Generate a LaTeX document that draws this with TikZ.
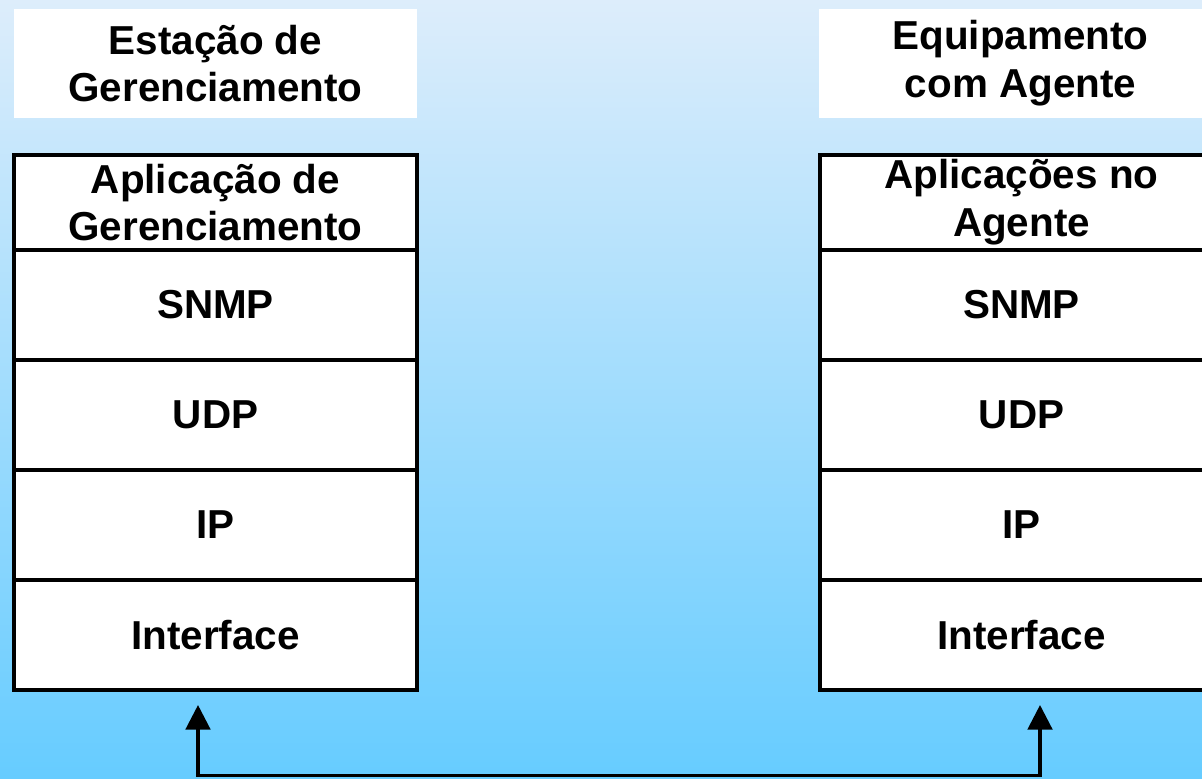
\documentclass[tikz,border=0pt]{standalone}
\usepackage{fontspec}
\setmainfont{Liberation Sans}
\usetikzlibrary{positioning}
\usetikzlibrary{arrows.meta}
\definecolor{skytop}{RGB}{221,237,251}
\definecolor{skybot}{RGB}{102,204,255}
\tikzset{layer/.style={draw, fill=white, line width=0.9pt, minimum width=4.03cm, minimum height=1.1cm, outer sep=0pt, inner sep=0pt, align=center, font=\bfseries\fontsize{11.5}{13.6}\selectfont}}
\tikzset{heading/.style={fill=white, minimum width=4.03cm, minimum height=1.09cm, outer sep=0pt, inner sep=0pt, align=center, font=\bfseries\fontsize{11.5}{13.6}\selectfont}}
\tikzset{link/.style={line width=0.9pt, {Triangle[width=7pt,length=7pt]}-{Triangle[width=7pt,length=7pt]}}}

\begin{document}
\begin{tikzpicture}

\useasboundingbox (0,0) rectangle (12.02,7.78);
\fill[top color=skytop, bottom color=skybot] (0,0) rectangle (12.02,7.78);

% station side
\node (hdL) [heading, anchor=north west] at (0.14, 7.69) {Estação de\\Gerenciamento};
\node (apL) [layer, minimum height=0.95cm, anchor=north west] at (0.14, 6.23) {Aplicação de\\Gerenciamento};
\node (snmpL) [layer, below=0 of apL] {SNMP};
\node (udpL) [layer, below=0 of snmpL] {UDP};
\node (ipL) [layer, below=0 of udpL] {IP};
\node (ifL) [layer, below=0 of ipL] {Interface};

% agent side
\node (hdR) [heading, anchor=north west] at (8.19, 7.69) {Equipamento\\com Agente};
\node (apR) [layer, minimum height=0.95cm, anchor=north west] at (8.20, 6.23) {Aplicações no\\Agente};
\node (snmpR) [layer, below=0 of apR] {SNMP};
\node (udpR) [layer, below=0 of snmpR] {UDP};
\node (ipR) [layer, below=0 of udpR] {IP};
\node (ifR) [layer, below=0 of ipR] {Interface};

% link
\coordinate (tipL) at (1.98, 0.73);
\coordinate (tipR) at (10.40, 0.73);
\draw[link] (tipL) -- (1.98, 0.025) -| (tipR);

\end{tikzpicture}
\end{document}
